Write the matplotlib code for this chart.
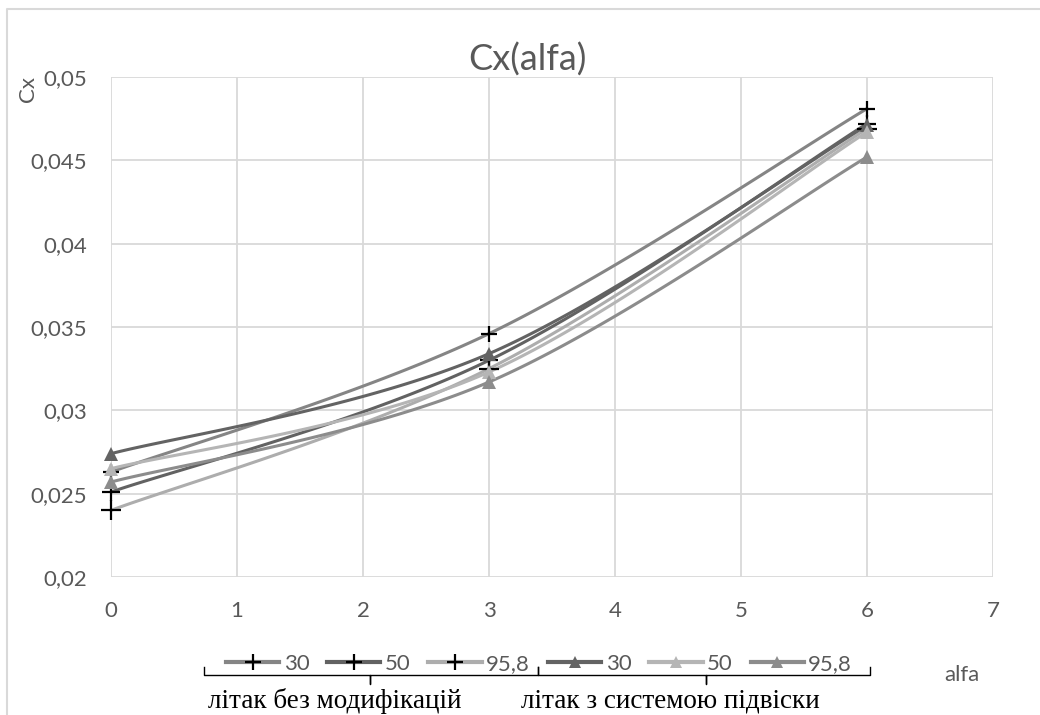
import numpy as np
import matplotlib
matplotlib.use("Agg")
import matplotlib.pyplot as plt
from matplotlib.lines import Line2D

# Angle of attack (deg) and drag coefficient for each configuration
alfa = [0, 3, 6]

# aircraft without modifications
cx_base_30 = [0.0263, 0.0346, 0.0481]
cx_base_50 = [0.0251, 0.0330, 0.0472]
cx_base_958 = [0.0240, 0.0325, 0.0469]

# aircraft with suspension system
cx_susp_30 = [0.0274, 0.0334, 0.0471]
cx_susp_50 = [0.0265, 0.0323, 0.0467]
cx_susp_958 = [0.0257, 0.0317, 0.0452]

series_labels = ["30", "50", "95,8", "30", "50", "95,8"]
group_labels = ["літак без модифікацій", "літак з системою підвіски"]

x_ticks = [0, 1, 2, 3, 4, 5, 6, 7]
y_ticks = [0.02, 0.025, 0.03, 0.035, 0.04, 0.045, 0.05]
y_tick_labels = ["0,02", "0,025", "0,03", "0,035", "0,04", "0,045", "0,05"]

FONT = "Lato"
TXT = "#595959"


def smooth(xs, ys, n=60):
    """Spreadsheet-style smoothed line: cubic Bezier through every point."""
    p = np.column_stack([xs, ys]).astype(float)
    ext = np.vstack([p[0], p, p[-1]])
    t = np.linspace(0, 1, n)[:, None]
    out = []
    for i in range(len(p) - 1):
        p0, p1 = ext[i + 1], ext[i + 2]
        c1 = p0 + (ext[i + 2] - ext[i]) / 6.0
        c2 = p1 - (ext[i + 3] - ext[i + 1]) / 6.0
        seg = ((1 - t) ** 3) * p0 + 3 * ((1 - t) ** 2) * t * c1 \
            + 3 * (1 - t) * t ** 2 * c2 + t ** 3 * p1
        out.append(seg if i == 0 else seg[1:])
    seg = np.vstack(out)
    return seg[:, 0], seg[:, 1]


W, H = 1040, 715
fig = plt.figure(figsize=(W / 100, H / 100), dpi=100)
ax = fig.add_axes([111 / W, (H - 577) / H, (993 - 111) / W, 500 / H])

series = [
    (cx_base_30, "#858585", "+", 11),
    (cx_base_50, "#626262", "+", 13),
    (cx_base_958, "#adadad", "+", 15),
    (cx_susp_30, "#636363", "^", 10),
    (cx_susp_50, "#b5b5b5", "^", 10),
    (cx_susp_958, "#8c8c8c", "^", 10),
]

handles = []
for (vals, col, mk, ms), lab in zip(series, series_labels):
    sx, sy = smooth(alfa, vals)
    ax.plot(sx, sy, color=col, lw=2.2, solid_capstyle="round", zorder=3,
            clip_on=False)
    if mk == "+":
        ax.plot(alfa, vals, ls="none", marker="+", ms=ms, mew=1.6,
                color="black", zorder=4, clip_on=False)
        h = Line2D([], [], color=col, lw=3, marker="+", ms=11, mew=1.6,
                   mec="black")
    else:
        ax.plot(alfa, vals, ls="none", marker="^", ms=ms, mew=0,
                color=col, zorder=4, clip_on=False)
        h = Line2D([], [], color=col, lw=3, marker="^", ms=9, mew=0,
                   mfc=col)
    handles.append(h)

ax.set_xlim(0, 7)
ax.set_ylim(0.02, 0.05)
ax.set_xticks(x_ticks)
ax.set_yticks(y_ticks)
ax.set_yticklabels(y_tick_labels)
ax.grid(True, color="#d9d9d9", lw=1.3)
ax.set_axisbelow(True)
for s in ax.spines.values():
    s.set_visible(False)
ax.tick_params(length=0, labelsize=16, labelcolor=TXT)
ax.tick_params(axis="y", pad=17)
ax.tick_params(axis="x", pad=17)
for lbl in ax.get_xticklabels() + ax.get_yticklabels():
    lbl.set_fontfamily(FONT)

# Titles and axis names
fig.text(527 / W, 1 - 60 / H, "Cx(alfa)", ha="center", va="center",
         fontsize=26, color=TXT, family=FONT)
fig.text(28 / W, 1 - 89 / H, "Cx", ha="center", va="center", rotation=90,
         fontsize=16, color=TXT, family=FONT)
fig.text(962 / W, 1 - 675 / H, "alfa", ha="center", va="center",
         fontsize=16, color=TXT, family=FONT)

leg = fig.legend(handles, series_labels, ncol=6, loc="center",
                 bbox_to_anchor=(539 / W, 1 - 664 / H), frameon=False,
                 prop={"family": FONT, "size": 16}, labelcolor=TXT,
                 handlelength=2.4, handletextpad=0.2, columnspacing=0.8,
                 borderpad=0, borderaxespad=0)

# Group braces beneath the legend
def px(x, y):
    return x / W, 1 - y / H


def brace(x0, x1, xm, ytop=667, ybar=675, ytip=684):
    xs = [x0, x0, xm, xm, xm, x1, x1]
    ys = [ytop, ybar, ybar, ytip, ybar, ybar, ytop]
    fx, fy = zip(*[px(a, b) for a, b in zip(xs, ys)])
    fig.add_artist(Line2D(fx, fy, color="black", lw=1.0,
                          transform=fig.transFigure))


brace(204, 538, 370)
brace(538, 870, 706)

fig.text(335 / W, 1 - 701 / H, group_labels[0], ha="center", va="center",
         fontsize=19.5, family="Liberation Serif", color="black")
fig.text(670 / W, 1 - 701 / H, group_labels[1], ha="center", va="center",
         fontsize=19.5, family="Liberation Serif", color="black")

# Chart frame
fig.add_artist(Line2D([7 / W, 7 / W, 1.0], [0, 1 - 9 / H, 1 - 9 / H],
                      color="#d9d9d9", lw=1.5, transform=fig.transFigure))

fig.savefig("out.png", dpi=100, facecolor="white")
